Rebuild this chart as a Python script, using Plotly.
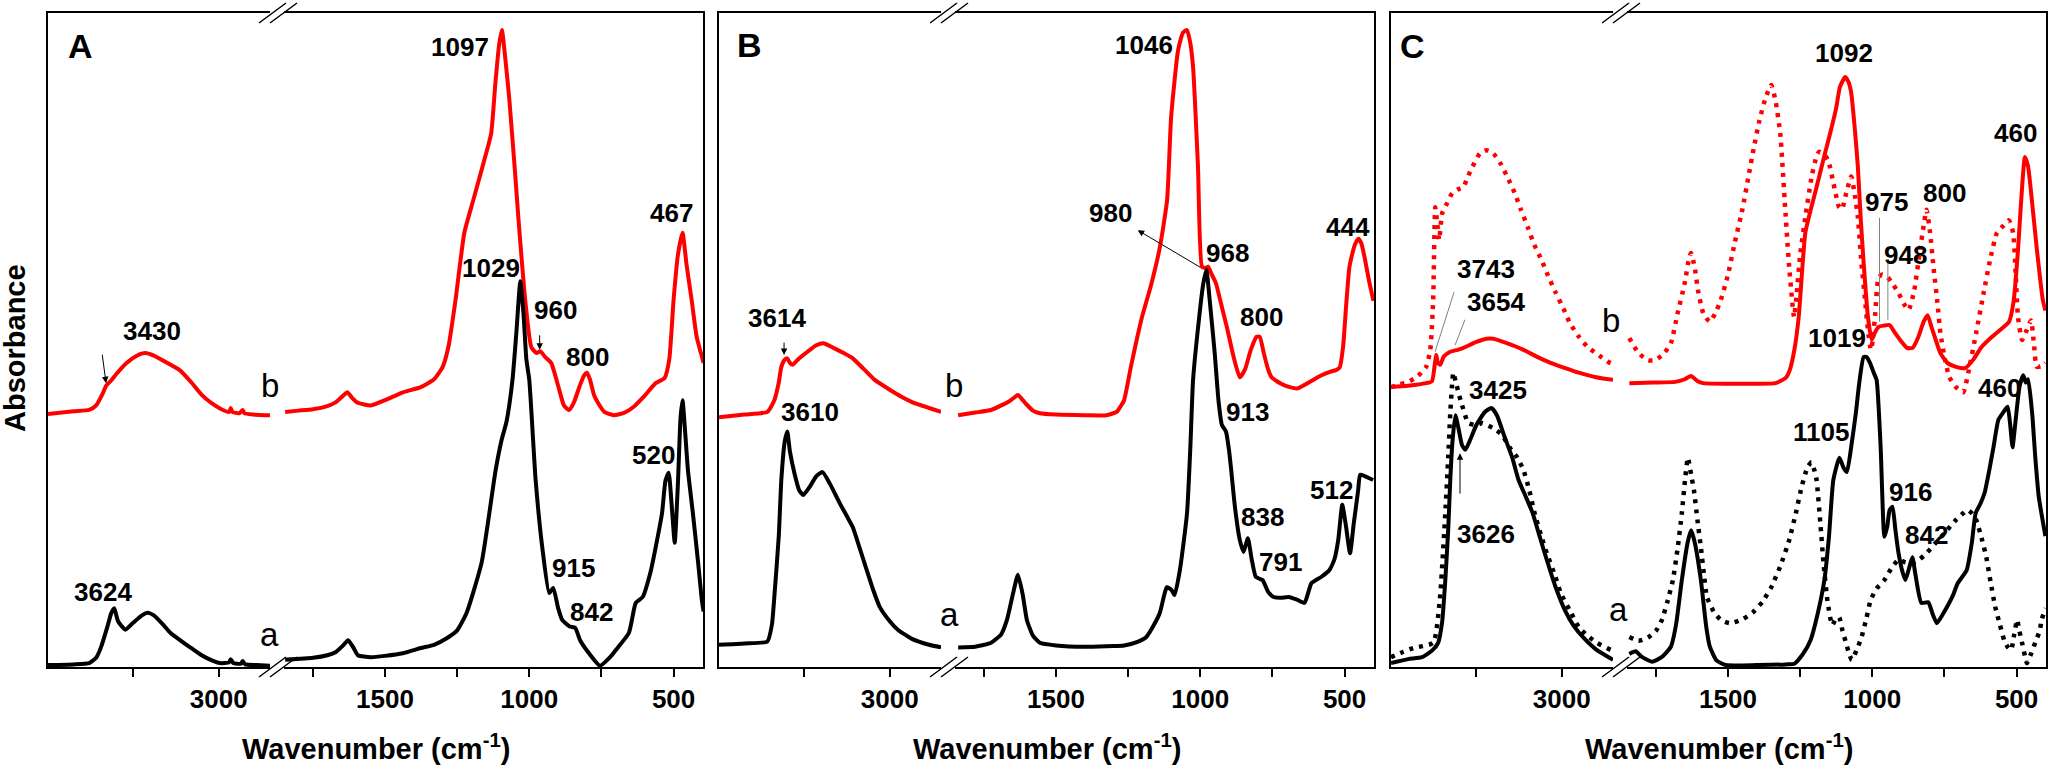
import plotly.graph_objects as go

# ---------------- DATA (wavenumber cm-1, absorbance in arbitrary units 0-100) ----------------
a_black_wn = [4000, 3850, 3759, 3718, 3690, 3653, 3630, 3612, 3590, 3547, 3500, 3450, 3417, 3380, 3330, 3282,
              3205, 3150, 3100, 3040, 2994, 2940, 2930, 2915, 2870, 2860, 2845, 2780, 2700,
              1846, 1749, 1700, 1670, 1645, 1628, 1610, 1594, 1549, 1500, 1438, 1376, 1330, 1286, 1250, 1217,
              1165, 1117, 1096, 1079, 1058, 1045, 1031, 1020, 1010, 1000, 978, 955, 931, 917, 900, 886, 860,
              841, 824, 793, 755, 720, 700, 655, 631, 607, 580, 562, 540, 528, 517, 507, 496, 485, 476, 469,
              460, 450, 433, 415, 402, 396]
a_black_ab = [0.3, 0.4, 0.6, 1.4, 3.0, 6.1, 8.2, 9.0, 7.0, 5.7, 6.8, 7.9, 8.3, 7.9, 6.6, 5.2,
              3.7, 2.7, 1.8, 1.0, 0.6, 0.7, 1.2, 0.6, 0.5, 0.9, 0.4, 0.3, 0.2,
              1.1, 1.4, 1.8, 2.3, 3.3, 4.1, 3.0, 1.8, 1.5, 1.7, 2.1, 2.9, 3.4, 4.4, 5.6, 8.3,
              16.0, 30.0, 34.7, 37.5, 44.0, 51.0, 59.0, 54.0, 47.0, 43.9, 28.6, 18.3, 11.3, 12.1, 9.0, 7.2, 6.2,
              6.0, 4.1, 2.1, 0.2, 1.5, 2.6, 5.2, 9.8, 10.7, 14.5, 18.3, 23.5, 28.5, 29.7, 25.0, 19.0, 28.0, 38.0, 40.8,
              36.0, 30.0, 23.5, 16.0, 10.2, 8.5]

a_red_wn = [4000, 3850, 3759, 3718, 3680, 3660, 3630, 3600, 3540, 3480, 3430, 3380, 3282, 3229, 3160, 3100,
            3040, 2990, 2940, 2930, 2920, 2880, 2860, 2850, 2800, 2700,
            1846, 1800, 1750, 1700, 1670, 1645, 1630, 1615, 1594, 1549, 1500, 1438, 1376, 1330, 1300, 1280,
            1256, 1225, 1194, 1156, 1132, 1118, 1105, 1095, 1083, 1069, 1050, 1038, 1014, 993, 975, 962, 945,
            924, 900, 880, 862, 845, 825, 810, 800, 790, 775, 762, 740, 707, 670, 638, 600, 562, 531, 515, 500,
            485, 469, 455, 437, 420, 396]
a_red_ab = [38.7, 39.1, 39.3, 40.0, 41.8, 43.0, 43.8, 44.8, 46.5, 47.6, 48.0, 47.6, 46.2, 45.4, 43.5, 41.6,
            40.3, 39.5, 39.0, 39.6, 39.0, 38.8, 39.3, 38.8, 38.6, 38.5,
            39.0, 39.2, 39.4, 39.9, 40.5, 41.5, 42.0, 41.2, 40.4, 40.0, 40.8, 42.0, 42.8, 44.0, 45.9, 49.0,
            56.0, 66.4, 71.4, 77.5, 81.6, 89.0, 95.0, 97.4, 93.0, 86.7, 76.0, 68.8, 56.1, 48.9, 48.0, 48.3, 47.4,
            46.5, 43.0, 40.0, 39.3, 40.5, 43.0, 44.6, 45.0, 44.0, 41.5, 40.4, 39.0, 38.5, 38.9, 39.8, 41.5, 43.4, 44.2, 47.0, 56.1,
            63.0, 66.4, 61.5, 56.0, 50.5, 46.5]

b_black_wn = [4000, 3850, 3717, 3690, 3676, 3650, 3635, 3615, 3600, 3585, 3559, 3530, 3506, 3470, 3430, 3394,
              3350, 3294, 3250, 3217, 3180, 3141, 3100, 3059, 3000, 2953, 2870, 2770, 2700,
              1839, 1780, 1725, 1690, 1670, 1650, 1632, 1615, 1601, 1580, 1556, 1500, 1400, 1300, 1264, 1220,
              1187, 1160, 1140, 1125, 1116, 1100, 1089, 1070, 1046, 1035, 1025, 1005, 990, 979, 965, 950, 937,
              925, 911, 900, 894, 880, 863, 850, 835, 822, 808, 795, 784, 765, 746, 720, 694, 665, 639, 625, 615,
              580, 553, 535, 522, 508, 495, 481, 468, 453, 446, 430, 401]
b_black_ab = [3.4, 3.6, 3.9, 6.5, 10.7, 20.0, 28.6, 34.5, 36.0, 33.0, 29.7, 27.0, 26.3, 27.5, 29.2, 29.8,
              28.0, 25.1, 23.0, 21.4, 18.5, 15.3, 12.0, 9.2, 7.0, 5.7, 4.3, 3.4, 3.0,
              3.0, 3.1, 3.7, 5.0, 7.2, 11.0, 14.1, 11.0, 7.2, 4.8, 3.7, 3.3, 3.1, 3.2, 3.3, 3.8,
              4.6, 6.5, 8.3, 11.0, 12.2, 11.8, 11.0, 15.0, 23.5, 33.0, 43.9, 53.0, 58.5, 60.7, 55.0, 48.0, 40.8,
              37.0, 36.0, 33.0, 30.6, 24.5, 19.4, 17.6, 19.7, 16.5, 13.8, 13.5, 13.3, 11.5, 10.7, 10.6, 10.7, 10.3, 9.8, 11.5, 12.8,
              13.8, 14.8, 16.5, 19.4, 24.8, 21.5, 17.4, 22.0, 27.0, 29.4, 29.2, 28.6]

b_red_wn = [4000, 3850, 3717, 3676, 3650, 3635, 3615, 3600, 3585, 3570, 3530, 3482, 3430, 3388, 3330, 3270,
            3217, 3150, 3088, 3000, 2929, 2850, 2770, 2700,
            1839, 1780, 1725, 1690, 1663, 1645, 1632, 1615, 1601, 1580, 1556, 1500, 1400, 1325, 1290, 1277,
            1264, 1240, 1202, 1170, 1140, 1115, 1101, 1077, 1060, 1046, 1035, 1025, 1008, 994, 982, 973, 960,
            946, 925, 908, 885, 863, 845, 825, 805, 794, 780, 765, 753, 720, 690, 663, 620, 580, 553, 530, 517,
            505, 495, 483, 465, 452, 442, 430, 415, 400]
b_red_ab = [38.2, 38.6, 39.0, 40.8, 43.5, 45.9, 47.0, 47.2, 46.5, 46.2, 47.2, 48.2, 49.2, 49.5, 48.8, 48.0,
            47.2, 45.5, 43.9, 42.4, 41.3, 40.3, 39.6, 39.0,
            38.5, 38.9, 39.3, 40.0, 40.6, 41.2, 41.6, 40.8, 40.1, 39.2, 38.8, 38.6, 38.5, 38.5, 39.0, 39.8,
            40.8, 46.0, 53.5, 58.5, 64.2, 71.4, 84.1, 94.3, 97.0, 97.4, 95.5, 91.7, 76.5, 61.2, 61.0, 61.2, 60.0,
            58.7, 55.0, 52.0, 47.5, 44.3, 45.5, 48.5, 50.5, 50.5, 48.0, 45.5, 44.3, 43.3, 42.8, 42.6, 43.6, 44.6, 45.1, 45.4, 45.8,
            49.0, 55.0, 61.2, 64.5, 65.5, 64.8, 62.5, 59.0, 56.0]

c_black_wn = [4000, 3900, 3818, 3760, 3724, 3700, 3682, 3665, 3653, 3640, 3623, 3605, 3585, 3565, 3540, 3500,
              3450, 3412, 3380, 3335, 3290, 3253, 3210, 3170, 3130, 3088, 3040, 2982, 2930, 2870, 2800, 2700,
              1842, 1820, 1800, 1763, 1730, 1698, 1680, 1660, 1640, 1628, 1615, 1594, 1575, 1563, 1540, 1508,
              1400, 1300, 1270, 1240, 1214, 1190, 1166, 1150, 1135, 1114, 1100, 1088, 1072, 1057, 1045, 1030,
              1020, 1008, 995, 985, 971, 958, 948, 940, 930, 920, 909, 895, 885, 870, 861, 850, 830, 806, 790,
              776, 750, 720, 704, 673, 655, 642, 625, 611, 595, 580, 563, 545, 531, 522, 514, 505, 490, 477,
              468, 460, 446, 435, 423, 400]
c_black_ab = [0.6, 1.2, 1.5, 2.5, 3.7, 7.0, 13.3, 21.0, 28.6, 34.5, 38.5, 36.5, 34.0, 33.2, 34.5, 37.0,
              39.0, 39.6, 38.5, 35.2, 32.0, 28.6, 26.0, 23.5, 20.0, 16.4, 12.5, 8.7, 6.3, 4.4, 2.7, 1.1,
              2.0, 2.4, 1.6, 0.8, 1.5, 3.1, 6.5, 13.3, 19.0, 20.9, 19.0, 13.3, 6.0, 3.1, 1.0, 0.3,
              0.3, 0.4, 0.5, 2.0, 4.1, 8.0, 13.3, 20.0, 28.6, 32.0, 30.5, 29.8, 34.0, 38.8, 43.5, 47.4,
              47.4, 46.5, 45.0, 43.9, 33.6, 19.9, 21.5, 24.0, 24.5, 21.0, 17.4, 14.5, 13.3, 15.5, 16.8, 14.0, 9.8, 9.9, 8.0,
              6.7, 8.5, 11.0, 12.8, 14.8, 19.0, 23.5, 25.0, 26.6, 30.0, 33.6, 37.8, 39.0, 39.8, 37.0, 33.6, 37.0, 42.8, 44.6,
              43.5, 44.0, 38.8, 32.0, 26.0, 20.0]

c_black_ref_wn = [4000, 3930, 3870, 3753, 3715, 3682, 3665, 3653, 3640, 3635, 3620, 3600, 3588, 3547, 3500, 3465,
                  3400, 3350, 3306, 3260, 3224, 3190, 3159, 3120, 3088, 3040, 3006, 2950, 2900, 2850, 2794, 2712, 2700,
                  1842, 1810, 1777, 1750, 1729, 1710, 1691, 1675, 1660, 1648, 1639, 1628, 1618, 1606, 1594, 1583,
                  1573, 1550, 1525, 1494, 1450, 1415, 1380, 1350, 1318, 1288, 1265, 1245, 1225, 1211, 1200, 1193,
                  1180, 1169, 1155, 1139, 1127, 1115, 1103, 1091, 1080, 1071, 1055, 1037, 1020, 1006, 985, 958, 935,
                  909, 885, 860, 835, 812, 780, 749, 710, 685, 670, 655, 640, 620, 605, 590, 574, 558, 543, 530, 519,
                  508, 498, 490, 481, 470, 464, 450, 433, 420, 413, 400]
c_black_ref_ab = [1.5, 2.3, 2.9, 3.7, 10.0, 23.5, 32.0, 38.8, 44.0, 45.0, 43.5, 41.5, 40.4, 37.3, 37.0, 37.3,
                  36.5, 35.5, 33.6, 32.0, 30.1, 27.0, 23.5, 20.0, 17.4, 14.0, 11.3, 8.5, 6.1, 4.8, 3.7, 2.6, 2.5,
                  4.6, 4.0, 4.5, 5.5, 7.2, 10.0, 13.3, 18.0, 23.5, 29.0, 32.0, 29.5, 27.0, 22.5, 18.3, 14.0,
                  10.7, 8.5, 7.2, 6.7, 7.3, 8.3, 10.0, 12.2, 15.5, 19.4, 23.5, 27.5, 30.5, 31.3, 30.0, 28.6,
                  22.0, 15.9, 10.0, 6.4, 7.3, 7.6, 5.5, 3.7, 2.0, 1.1, 2.5, 4.6, 7.5, 10.2, 12.0, 13.3, 15.0,
                  16.4, 16.0, 15.9, 16.5, 17.4, 19.0, 20.5, 22.5, 23.5, 24.0, 23.5, 22.5, 19.5, 16.8, 13.0, 9.2, 6.5, 4.1, 3.0, 2.6,
                  5.0, 7.2, 5.5, 3.7, 1.5, 0.6, 2.0, 4.0, 5.5, 7.2, 9.0]

c_red_wn = [4000, 3900, 3794, 3760, 3745, 3735, 3725, 3712, 3690, 3653, 3610, 3576, 3500, 3440, 3400, 3330,
            3224, 3150, 3065, 2980, 2900, 2800, 2700,
            1842, 1760, 1683, 1650, 1628, 1605, 1587, 1500, 1400, 1335, 1300, 1286, 1270, 1255, 1232, 1210,
            1193, 1170, 1146, 1125, 1112, 1094, 1083, 1073, 1060, 1050, 1040, 1029, 1015, 1002, 990, 978, 960,
            940, 920, 900, 880, 860, 840, 822, 808, 795, 780, 764, 740, 710, 678, 650, 622, 585, 550, 526, 510,
            495, 483, 471, 460, 447, 430, 409, 400]
c_red_ab = [42.8, 43.0, 43.4, 43.7, 46.0, 47.7, 46.5, 46.2, 47.5, 48.2, 48.5, 48.8, 49.7, 50.2, 50.2, 49.6,
            48.5, 47.5, 46.5, 45.7, 45.0, 44.3, 43.9,
            43.4, 43.5, 43.6, 44.0, 44.5, 43.7, 43.4, 43.3, 43.3, 43.4, 44.2, 45.4, 48.5, 53.5, 66.4, 70.5,
            73.4, 77.5, 81.6, 85.5, 88.7, 90.2, 89.5, 87.8, 82.0, 76.5, 68.5, 61.2, 53.5, 50.0, 51.2, 52.0, 52.2,
            52.3, 51.0, 49.8, 48.8, 48.8, 50.5, 52.8, 53.8, 52.0, 50.0, 48.0, 46.5, 45.9, 45.7, 47.0, 48.9, 50.5, 51.8, 52.8, 56.0,
            63.8, 72.0, 78.0, 76.5, 71.4, 64.0, 56.1, 54.5]

c_red_ref_wn = [4000, 3950, 3900, 3850, 3794, 3770, 3753, 3741, 3730, 3718, 3700, 3670, 3641, 3610, 3576, 3550,
                3523, 3480, 3441, 3400, 3359, 3320, 3276, 3240, 3200, 3160, 3118, 3080, 3035, 2990, 2953, 2900,
                2847, 2780, 2724, 2700,
                1842, 1810, 1777, 1753, 1725, 1698, 1675, 1650, 1635, 1628, 1615, 1604, 1585, 1563, 1545, 1525,
                1500, 1477, 1450, 1429, 1410, 1391, 1370, 1350, 1335, 1319, 1302, 1288, 1271, 1262, 1250, 1232,
                1210, 1195, 1184, 1170, 1153, 1130, 1115, 1105, 1090, 1073, 1060, 1050, 1038, 1025, 1015, 1005,
                998, 990, 978, 965, 947, 928, 909, 890, 874, 855, 836, 822, 812, 800, 788, 775, 764, 748, 733, 710,
                685, 665, 640, 615, 592, 568, 545, 526, 512, 503, 495, 481, 465, 450, 440, 430, 413, 400]
c_red_ref_ab = [42.8, 43.2, 43.6, 44.3, 45.9, 48.5, 56.1, 70.3, 68.0, 65.3, 69.4, 71.0, 72.5, 73.0, 73.4, 75.0,
                76.5, 78.5, 79.0, 78.5, 77.0, 75.0, 72.5, 70.0, 67.3, 64.5, 62.2, 59.8, 57.2, 54.8, 52.6, 50.5,
                48.9, 47.6, 46.6, 46.3,
                50.3, 48.0, 46.9, 46.9, 47.8, 49.5, 54.0, 58.7, 62.5, 63.3, 61.0, 57.6, 54.0, 52.8, 54.0, 56.1,
                60.0, 64.8, 70.0, 75.0, 79.5, 83.6, 87.0, 89.0, 86.5, 81.6, 70.3, 61.2, 53.5, 57.0, 63.0, 68.8,
                75.0, 77.8, 78.8, 78.5, 77.5, 73.0, 70.3, 70.0, 72.5, 75.0, 72.0, 68.8, 62.0, 56.1, 51.5, 48.5,
                50.0, 54.0, 59.6, 60.0, 59.6, 58.5, 57.2, 55.5, 54.6, 57.5, 63.3, 67.5, 69.9, 66.5, 61.2, 56.0, 51.1, 47.0, 44.3, 42.8,
                42.0, 45.5, 51.1, 57.0, 62.2, 66.4, 67.5, 68.3, 66.4, 60.0, 53.5, 50.0, 51.5, 53.0, 49.5, 45.9, 46.0, 46.5]

x_major_left = [3000]
x_minor_left = [3500]
x_major_right = [1500, 1000, 500]
x_minor_right = [1750, 1250, 750]

# ---------------- LAYOUT CONSTANTS (pixels) ----------------
W, H = 2050, 770
PANEL_LEFT = [48, 719, 1391]
SEG_L = (0, 222)
SEG_R = (236, 655)
RANGE_L = [4000, 2700]
RANGE_R = [1850, 398]
TOP, BOT = 13, 667
FONT = "Liberation Sans, Arial, sans-serif"
RED = "#ff0000"
BLACK = "#000000"


def fx(px):
    return px / W


def fy(py):
    return 1 - py / H


fig = go.Figure()
layout = dict(
    width=W, height=H, margin=dict(l=0, r=0, t=0, b=0),
    paper_bgcolor="white", plot_bgcolor="rgba(0,0,0,0)", showlegend=False,
    font=dict(family=FONT, color="black"),
)

for i, left in enumerate(PANEL_LEFT):
    nl, nr = 2 * i + 1, 2 * i + 2
    kxl = "xaxis" if nl == 1 else f"xaxis{nl}"
    kyl = "yaxis" if nl == 1 else f"yaxis{nl}"
    common_x = dict(showline=True, linewidth=2, linecolor="black", mirror=True, showgrid=False,
                    zeroline=False, ticks="outside", ticklen=8, tickwidth=2, tickcolor="black",
                    tickfont=dict(family=FONT, size=26, color="black", weight="bold"), autorange=False)
    layout[kxl] = dict(common_x, domain=[fx(left + SEG_L[0]), fx(left + SEG_L[1])], range=RANGE_L,
                       anchor=f"y{'' if nl == 1 else nl}", tickvals=x_major_left,
                       ticktext=[str(v) for v in x_major_left],
                       minor=dict(tickvals=x_minor_left, ticks="outside", ticklen=8, tickwidth=2, tickcolor="black"))
    layout[f"xaxis{nr}"] = dict(common_x, domain=[fx(left + SEG_R[0]), fx(left + SEG_R[1])], range=RANGE_R,
                                anchor=f"y{nr}", tickvals=x_major_right,
                                ticktext=[str(v) for v in x_major_right],
                                minor=dict(tickvals=x_minor_right, ticks="outside", ticklen=8, tickwidth=2,
                                           tickcolor="black"))
    common_y = dict(domain=[fy(BOT), fy(TOP)], range=[0, 100], autorange=False, showline=True, linewidth=2,
                    linecolor="black", showgrid=False, zeroline=False, showticklabels=False, ticks="")
    layout[kyl] = dict(common_y, anchor=f"x{'' if nl == 1 else nl}", side="left")
    layout[f"yaxis{nr}"] = dict(common_y, anchor=f"x{nr}", side="right")

fig.update_layout(**layout)

panels = [
    [(a_red_wn, a_red_ab, RED, "solid"), (a_black_wn, a_black_ab, BLACK, "solid")],
    [(b_red_wn, b_red_ab, RED, "solid"), (b_black_wn, b_black_ab, BLACK, "solid")],
    [(c_red_ref_wn, c_red_ref_ab, RED, "4px,6px"), (c_black_ref_wn, c_black_ref_ab, BLACK, "4px,6px"),
     (c_red_wn, c_red_ab, RED, "solid"), (c_black_wn, c_black_ab, BLACK, "solid")],
]

for i, curves in enumerate(panels):
    nl, nr = 2 * i + 1, 2 * i + 2
    for wn, ab, col, dash in curves:
        lx = [w for w in wn if w >= 2600]
        ly = [a for w, a in zip(wn, ab) if w >= 2600]
        rx = [w for w in wn if w <= 1900]
        ry = [a for w, a in zip(wn, ab) if w <= 1900]
        width = 4.5 if dash != "solid" else 4
        ln = dict(color=col, width=width, dash=dash, shape="spline", smoothing=0.5)
        fig.add_trace(go.Scatter(x=lx, y=ly, mode="lines", line=ln,
                                 xaxis=f"x{'' if nl == 1 else nl}", yaxis=f"y{'' if nl == 1 else nl}",
                                 hoverinfo="skip"))
        fig.add_trace(go.Scatter(x=rx, y=ry, mode="lines", line=ln,
                                 xaxis=f"x{nr}", yaxis=f"y{nr}", hoverinfo="skip"))

annotations = []
LBL = dict(family=FONT, size=26, color="black", weight="bold")


def lab(text, ax, x, y):
    xr = "x" if ax == 1 else f"x{ax}"
    yr = "y" if ax == 1 else f"y{ax}"
    annotations.append(dict(text=text, x=x, y=y, xref=xr, yref=yr, showarrow=False, font=LBL,
                            xanchor="center", yanchor="middle"))


# Panel A
lab("1097", 2, 1241, 94.8)
lab("3430", 1, 3391, 51.3)
lab("1029", 2, 1134, 61.0)
lab("960", 2, 909, 54.6)
lab("800", 2, 798, 47.4)
lab("467", 2, 508, 69.4)
lab("3624", 1, 3678, 11.5)
lab("915", 2, 847, 15.1)
lab("842", 2, 784, 8.4)
lab("520", 2, 570, 32.4)
# Panel B
lab("1046", 4, 1196, 95.1)
lab("980", 4, 1310, 69.4)
lab("968", 4, 905, 63.3)
lab("800", 4, 788, 53.5)
lab("444", 4, 488, 67.3)
lab("3614", 3, 3660, 53.4)
lab("3610", 3, 3467, 39.0)
lab("913", 4, 836, 39.0)
lab("838", 4, 784, 22.9)
lab("791", 4, 722, 16.1)
lab("512", 4, 546, 27.1)
# Panel C
lab("1092", 6, 1099, 93.9)
lab("975", 6, 950, 71.1)
lab("800", 6, 750, 72.5)
lab("948", 6, 885, 63.0)
lab("460", 6, 504, 81.7)
lab("3743", 5, 3444, 60.9)
lab("3654", 5, 3385, 55.8)
lab("1019", 6, 1123, 50.3)
lab("460", 6, 559, 42.7)
lab("3425", 5, 3373, 42.4)
lab("1105", 6, 1179, 35.9)
lab("916", 6, 867, 26.8)
lab("842", 6, 812, 20.2)
lab("3626", 5, 3444, 20.3)


def arrow(ax, x, y, dx, dy, head=2):
    xr = "x" if ax == 1 else f"x{ax}"
    yr = "y" if ax == 1 else f"y{ax}"
    annotations.append(dict(text="", x=x, y=y, xref=xr, yref=yr, showarrow=True, ax=dx, ay=dy,
                            arrowhead=head, arrowsize=1.3, arrowwidth=1, arrowcolor="black"))


arrow(1, 3660, 43.4, -4, -30)
arrow(2, 964, 48.5, 0, -16)
arrow(4, 1217, 66.8, 64, 38)
arrow(3, 3619, 47.7, 0, -14)
arrow(5, 3596, 32.7, 0, 42)


def paper_text(txt, px, py, size, bold=True, angle=0):
    f = dict(family=FONT, size=size, color="black")
    if bold:
        f["weight"] = "bold"
    annotations.append(dict(text=txt, x=fx(px), y=fy(py), xref="paper", yref="paper", showarrow=False,
                            xanchor="center", yanchor="middle", textangle=angle, font=f))


for txt, px, py in [("A", 80, 46), ("B", 749, 45), ("C", 1412, 46)]:
    paper_text(txt, px, py, 34)
for txt, px, py in [("b", 270, 386), ("a", 269, 634), ("b", 954, 385), ("a", 949, 614),
                    ("b", 1611, 320), ("a", 1618, 609)]:
    paper_text(txt, px, py, 33, bold=False)
for left in PANEL_LEFT:
    paper_text("Wavenumber (cm<sup>-1</sup>)", left + 328, 747, 29)
paper_text("Absorbance", 15, 348, 29, angle=-90)

shapes = []
# gray leader lines in panel C
for ax, x0, y0, x1, y1 in [(5, 3631, 57.3, 3742, 48.2), (5, 3567, 53.1, 3625, 49.2),
                           (6, 975, 68.7, 975, 52.8), (6, 946, 61.8, 946, 53.1)]:
    shapes.append(dict(type="line", xref=f"x{ax}", yref=f"y{ax}", x0=x0, y0=y0, x1=x1, y1=y1,
                       line=dict(color="#808080", width=1)))
# axis-break marks
for left in PANEL_LEFT:
    for base in (TOP, BOT):
        for off in (0, 11):
            shapes.append(dict(type="line", xref="paper", yref="paper",
                               x0=fx(left + 211 + off), y0=fy(base + 10), x1=fx(left + 238 + off), y1=fy(base - 10),
                               line=dict(color="black", width=1.5)))

fig.update_layout(annotations=annotations, shapes=shapes)
fig.write_html("out.html", config={"displayModeBar": False},
               post_script="document.body.style.margin='0';document.body.style.overflow='hidden';")
